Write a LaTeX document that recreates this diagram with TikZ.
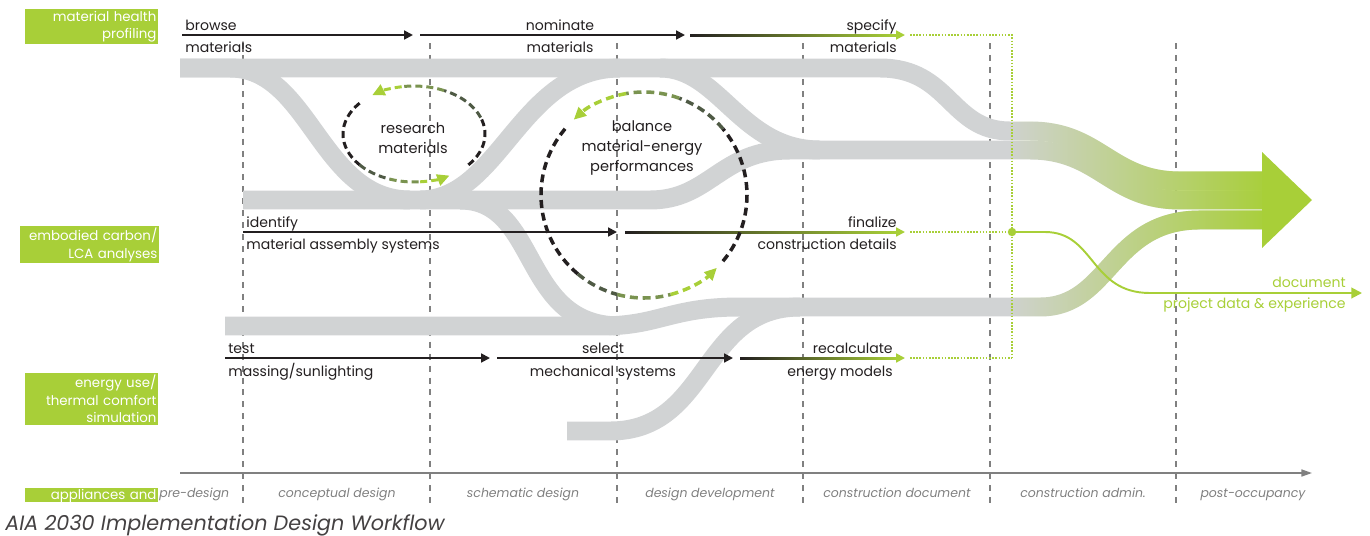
\documentclass[tikz,border=0pt]{standalone}
\usepackage{fontspec}
\setmainfont{Poppins}
\usetikzlibrary{arrows.meta,calc,fadings}
\definecolor{limeg}{HTML}{A8CF38}
\definecolor{bandgray}{HTML}{D1D3D4}
\definecolor{phasegray}{HTML}{808080}
\definecolor{inkblack}{HTML}{231F20}
\definecolor{loopmid}{HTML}{4F5A45}
\definecolor{loopolive}{HTML}{7A9350}
\tikzfading[name=fadeeast, left color=transparent!100, right color=transparent!0]

\begin{document}
\begin{tikzpicture}[x=0.02cm, y=-0.02cm,
  band/.style={draw=bandgray, line width=10.8pt},
  flow_arrow/.style={draw=inkblack, line width=1.1pt, -{Triangle[length=5pt,width=5pt]}},
  green_tip/.style={draw=limeg, line width=1.1pt, -{Triangle[length=5pt,width=5pt]}},
  grad_bar/.style={left color=inkblack, right color=limeg},
  green_dots/.style={draw=limeg, line width=0.9pt, dash pattern=on 0.9pt off 0.9pt},
  phase_line/.style={draw=phasegray, line width=0.6pt, dash pattern=on 3.4pt off 3.4pt},
  flow_text/.style={inner sep=0, font=\fontsize{8}{10}\selectfont, text=inkblack},
  phase/.style={inner sep=0, anchor=base, font=\itshape\fontsize{7.1}{9}\selectfont, text=phasegray},
  side_box/.style={fill=limeg, text=white, align=right, text width=2.6cm, inner xsep=0.025cm,
    inner ysep=1pt, anchor=north east, font=\fontsize{7.6}{10}\selectfont},
  loop_text/.style={align=center, inner sep=0, font=\fontsize{8.3}{11.5}\selectfont, text=inkblack},
  loop_dash/.style={line width=1.7pt, dash pattern=on 4pt off 2.3pt},
  big_dash/.style={line width=2pt, dash pattern=on 4.5pt off 2.8pt},
  loop_tip/.style={-{Triangle[length=7pt,width=6.5pt]}}
  ]
	\useasboundingbox (0,0) rectangle (1370,535);

	% phase separators
	\foreach \x in {243,430,617,803,990,1176}
		\draw[phase_line] (\x,43) -- (\x,503);

	% gray flow bands
	\draw[band] (180,68) -- (880,68) .. controls (950,68) and (950,131) .. (1010,131)
		-- (1030,131) .. controls (1100,131) and (1110,181) .. (1180,181) -- (1262,181);
	\draw[band] (180,68) -- (230,68) .. controls (310,68) and (320,200) .. (410,200);
	\draw[band] (420,200) .. controls (500,200) and (520,68) .. (620,68);
	\draw[band] (243,200) -- (650,200) .. controls (710,200) and (720,150) .. (790,150)
		-- (1030,150) .. controls (1100,150) and (1110,200) .. (1180,200) -- (1262,200);
	\draw[band] (660,68) .. controls (720,68) and (740,150) .. (820,150);
	\draw[band] (460,200) .. controls (540,200) and (520,326) .. (620,326);
	\draw[band] (225,326) -- (600,326) .. controls (660,326) and (670,307) .. (740,307)
		-- (1040,307) .. controls (1110,307) and (1110,220) .. (1200,220) -- (1262,220);
	\draw[band] (567,431) -- (610,431) .. controls (710,431) and (700,307) .. (800,307);

	% green towards the outcome
	\draw[band, draw=limeg, path fading=fadeeast] (1010,112) (1010,330)
		(1010,131) -- (1030,131) .. controls (1100,131) and (1110,181) .. (1180,181) -- (1262,181)
		(1010,150) -- (1030,150) .. controls (1100,150) and (1110,200) .. (1180,200) -- (1262,200)
		(1010,307) -- (1040,307) .. controls (1110,307) and (1110,220) .. (1200,220) -- (1262,220);
	\fill[limeg] (1262,152) -- (1312,200) -- (1262,248) -- cycle;

	% time axis
	\coordinate (ax0) at (180,473);
	\coordinate (ax1) at (1312,473);
	\draw[draw=phasegray, line width=0.85pt, -{Triangle[length=6pt,width=4pt]}] (ax0) -- (ax1);

	% side boxes
	\node (mhp) [side_box] at (158,9) {material health\\profiling};
	\node (eca) [side_box, text width=2.72cm] at (159,226) {embodied carbon/\\LCA analyses};
	\node (eus) [side_box] at (158,373) {energy use/\\thermal comfort\\simulation};
	\node (apl) [side_box, inner ysep=0.5pt, text height=6pt, text depth=1pt] at (158,488) {appliances and};

	% phases
	\node (ph1) [phase, anchor=base west] at (159,497) {pre-design};
	\node (ph2) [phase] at (337,497) {conceptual design};
	\node (ph3) [phase] at (523,497) {schematic design};
	\node (ph4) [phase] at (710,497) {design development};
	\node (ph5) [phase] at (897,497) {construction document};
	\node (ph6) [phase] at (1083,497) {construction admin.};
	\node (ph7) [phase] at (1253,497) {post-occupancy};

	\node (title) [anchor=base west, inner sep=0, font=\itshape\fontsize{11.8}{14}\selectfont, text=inkblack!85]
		at (5,530) {AIA 2030 Implementation Design Workflow};

	% material health row
	\coordinate (br0) at (182,35);
	\coordinate (br1) at (413,35);
	\coordinate (nm0) at (420,35);
	\coordinate (nm1) at (685,35);
	\coordinate (sp0) at (690,35);
	\coordinate (sp1) at (905,35);
	\draw[flow_arrow] (br0) -- (br1);
	\draw[flow_arrow] (nm0) -- (nm1);
	\shade[grad_bar] ($(sp0)+(0,-1)$) rectangle ($(sp1)+(-8,1)$);
	\draw[green_tip] ($(sp1)+(-9,0)$) -- (sp1);
	\node (br_t) [flow_text, anchor=base west] at (185,30) {browse};
	\node (br_b) [flow_text, anchor=base west] at (185,52) {materials};
	\node (nm_t) [flow_text, anchor=base] at (560,30) {nominate};
	\node (nm_b) [flow_text, anchor=base] at (560,52) {materials};
	\node (sp_t) [flow_text, anchor=base east] at (897,30) {specify};
	\node (sp_b) [flow_text, anchor=base east] at (897,52) {materials};

	% embodied carbon row
	\coordinate (id0) at (243,232);
	\coordinate (id1) at (617,232);
	\coordinate (fz0) at (625,232);
	\coordinate (fz1) at (905,232);
	\draw[flow_arrow] (id0) -- (id1);
	\shade[grad_bar] ($(fz0)+(0,-1)$) rectangle ($(fz1)+(-8,1)$);
	\draw[green_tip] ($(fz1)+(-9,0)$) -- (fz1);
	\node (id_t) [flow_text, anchor=base west] at (246,227) {identify};
	\node (id_b) [flow_text, anchor=base west] at (246,249) {material assembly systems};
	\node (fz_t) [flow_text, anchor=base east] at (897,227) {finalize};
	\node (fz_b) [flow_text, anchor=base east] at (897,249) {construction details};

	% energy row
	\coordinate (ts0) at (225,358);
	\coordinate (ts1) at (490,358);
	\coordinate (sl0) at (497,358);
	\coordinate (sl1) at (733,358);
	\coordinate (rc0) at (740,358);
	\coordinate (rc1) at (905,358);
	\draw[flow_arrow] (ts0) -- (ts1);
	\draw[flow_arrow] (sl0) -- (sl1);
	\shade[grad_bar] ($(rc0)+(0,-1)$) rectangle ($(rc1)+(-8,1)$);
	\draw[green_tip] ($(rc1)+(-9,0)$) -- (rc1);
	\node (ts_t) [flow_text, anchor=base west] at (228,353) {test};
	\node (ts_b) [flow_text, anchor=base west] at (228,376) {massing/sunlighting};
	\node (sl_t) [flow_text, anchor=base] at (603,353) {select};
	\node (sl_b) [flow_text, anchor=base] at (603,376) {mechanical systems};
	\node (rc_t) [flow_text, anchor=base east] at (893,353) {recalculate};
	\node (rc_b) [flow_text, anchor=base east] at (893,376) {energy models};

	% construction admin collector
	\coordinate (sp2) at (910,35);
	\coordinate (fz2) at (910,232);
	\coordinate (rc2) at (910,358);
	\coordinate (cr1) at (1012,35);
	\coordinate (cr3) at (1012,358);
	\node (gdot) [circle, fill=limeg, inner sep=0, minimum size=4.8pt] at (1012,232) {};
	\draw[green_dots] (sp2) -- (cr1) -- (cr3);
	\draw[green_dots] (rc2) -- (cr3);
	\draw[green_dots] (fz2) -- (gdot);
	\coordinate (docend) at (1362,293);
	\draw[draw=limeg, line width=1.1pt, -{Triangle[length=6pt,width=6pt]}] (gdot.center) -- (1045,232)
		.. controls (1095,232) and (1090,293) .. (1150,293) -- (docend);
	\node (doc_t) [flow_text, anchor=base east, text=limeg] at (1346,287) {document};
	\node (doc_b) [flow_text, anchor=base east, text=limeg] at (1346,308) {project data \& experience};

	% research loop
	\coordinate (rm) at (414,134);
	\node (rm_text) [loop_text] at (413,138) {research\\materials};
	\foreach \a/\b/\c in {40/-20/inkblack, -20/-65/loopmid, -65/-100/loopolive}
		\draw[loop_dash, draw=\c] (rm) ++(\a:71 and 48) arc[start angle=\a, end angle=\b, x radius=71, y radius=48];
	\draw[loop_dash, loop_tip, draw=limeg] (rm) ++(-100:71 and 48) arc[start angle=-100, end angle=-126, x radius=71, y radius=48];
	\foreach \a/\b/\c in {-140/-220/inkblack, -220/-250/loopmid, -250/-275/loopolive}
		\draw[loop_dash, draw=\c] (rm) ++(\a:71 and 48) arc[start angle=\a, end angle=\b, x radius=71, y radius=48];
	\draw[loop_dash, loop_tip, draw=limeg] (rm) ++(-275:71 and 48) arc[start angle=-275, end angle=-300, x radius=71, y radius=48];

	% balance loop
	\coordinate (bl) at (644,195);
	\node (bl_text) [loop_text] at (642,148) {balance\\material-energy\\performances};
	\foreach \a/\b/\c in {40/-40/inkblack, -40/-70/loopmid, -70/-100/loopolive}
		\draw[big_dash, draw=\c] (bl) ++(\a:103) arc[start angle=\a, end angle=\b, radius=103];
	\draw[big_dash, loop_tip, draw=limeg] (bl) ++(-100:103) arc[start angle=-100, end angle=-133, radius=103];
	\foreach \a/\b/\c in {-140/-230/inkblack, -230/-255/loopmid, -255/-285/loopolive}
		\draw[big_dash, draw=\c] (bl) ++(\a:103) arc[start angle=\a, end angle=\b, radius=103];
	\draw[big_dash, loop_tip, draw=limeg] (bl) ++(-285:103) arc[start angle=-285, end angle=-315, radius=103];
\end{tikzpicture}
\end{document}
